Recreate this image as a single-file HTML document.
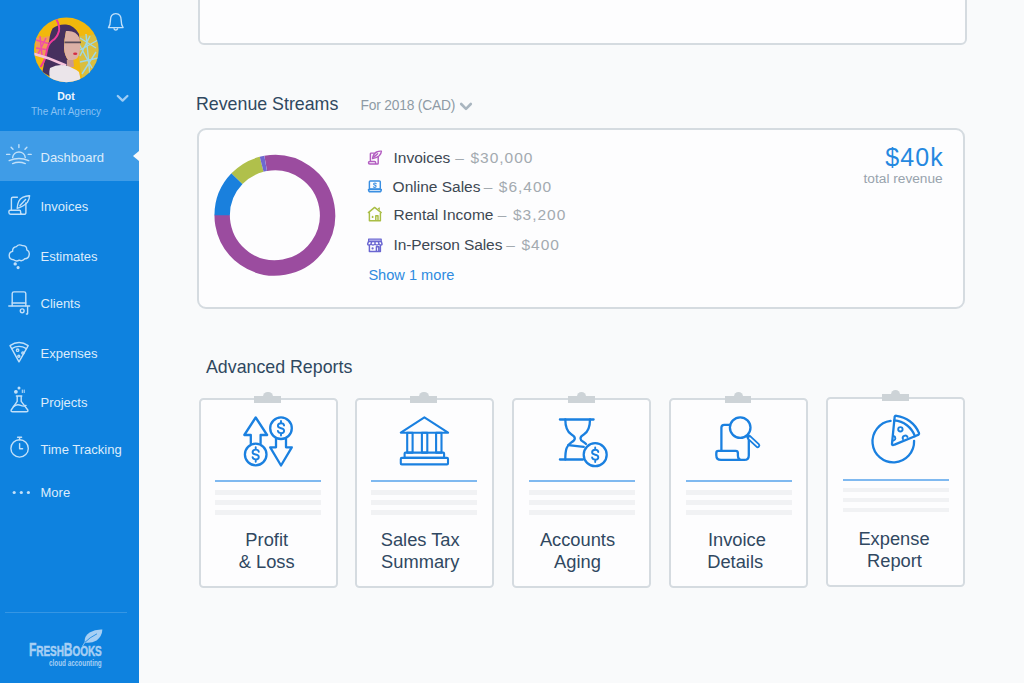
<!DOCTYPE html>
<html><head><meta charset="utf-8">
<style>
*{margin:0;padding:0;box-sizing:border-box}
html,body{width:1024px;height:683px;overflow:hidden}
body{font-family:"Liberation Sans",sans-serif;background:#f9fafb;position:relative}
.abs{position:absolute;white-space:nowrap}
#side{position:absolute;left:0;top:0;width:139px;height:683px;background:#0e82df}
#active{position:absolute;left:0;top:131px;width:139px;height:50px;background:#3f9ce7}
.notch{position:absolute;left:133px;top:150.6px;width:0;height:0;border-top:5.4px solid transparent;border-bottom:5.4px solid transparent;border-right:6.2px solid #f9fafb}
.nav{position:absolute;left:40.5px;color:#dcecfb;font-size:13px;line-height:13px;white-space:nowrap}
.card{position:absolute;background:#fdfdfe;border:2px solid #d5dbe0}
.h2{position:absolute;color:#2f4860;font-size:17.8px;line-height:18px;white-space:nowrap}
.leg{position:absolute;left:393.5px;font-size:15.5px;line-height:16px;color:#3d4853;white-space:nowrap}
.amt{color:#a3aab0}
.rep{position:absolute;width:139px;background:#fdfdfe;border:2px solid #d5dbe0;border-radius:4.5px}
.rep .t{position:absolute;width:135px;text-align:center;font-size:18.3px;line-height:22px;color:#304861;white-space:nowrap}
.rep .l1{position:absolute;left:14.6px;width:106px;height:2px;background:#7fb9f0}
.rep .g{position:absolute;left:14.6px;width:106px;height:4.4px;background:#f1f2f4}
.clip{position:absolute;left:53.6px;top:-4.3px;width:26.8px;height:6.8px;background:#cdd3d7}
.clip:before{content:"";position:absolute;left:9px;top:-4.4px;width:9.3px;height:9px;border-radius:50%;background:#cdd3d7}
#ov{position:absolute;left:0;top:0;width:1024px;height:683px;overflow:visible}
</style></head>
<body>
<div id="side">
 <div id="active"></div>
 <div class="abs" style="left:26px;top:90.9px;width:80px;text-align:center;font-size:10.5px;line-height:11px;font-weight:bold;color:#eef6fd">Dot</div>
 <div class="abs" style="left:26px;top:107px;width:80px;text-align:center;font-size:10px;line-height:10px;color:#86c0f3">The Ant Agency</div>
 <div class="nav" style="top:150.5px">Dashboard</div>
 <div class="nav" style="top:200px">Invoices</div>
 <div class="nav" style="top:250.2px">Estimates</div>
 <div class="nav" style="top:297px">Clients</div>
 <div class="nav" style="top:346.8px">Expenses</div>
 <div class="nav" style="top:396.3px">Projects</div>
 <div class="nav" style="top:442.6px">Time Tracking</div>
 <div class="nav" style="top:486px">More</div>
 <div class="abs" style="left:5.4px;top:612px;width:121.6px;height:1px;background:#3596e4"></div>
 <div class="abs" style="left:28.9px;top:641px;font-size:18px;line-height:18px;font-weight:bold;color:#a6cff4;-webkit-text-stroke:0.5px #a6cff4;transform:scaleX(0.668);transform-origin:0 0;letter-spacing:-0.1px">F<span style="font-size:15px">RESH</span>B<span style="font-size:15px">OOKS</span></div>
 <div class="abs" style="left:48.7px;top:658.1px;font-size:9.5px;line-height:10px;font-weight:bold;color:#a6cff4;transform:scaleX(0.67);transform-origin:0 0">cloud accounting</div>
</div>
<div class="notch"></div>

<div class="card" style="left:197.5px;top:-10px;width:769px;height:55px;border-radius:6px"></div>

<div class="h2" style="left:196px;top:95.3px">Revenue Streams</div>
<div class="abs" style="left:360.5px;top:98.8px;font-size:13.8px;line-height:14px;letter-spacing:-0.2px;color:#8e9aa5">For 2018 (CAD)</div>

<div class="card" style="left:196.5px;top:127.5px;width:768.5px;height:181px;border-radius:9px"></div>
<div class="leg" style="top:150.2px;left:393.5px;letter-spacing:0px">Invoices</div><div class="leg amt" style="top:150.2px;left:455.3px">–</div><div class="leg amt" style="top:150.2px;left:470.4px;letter-spacing:1px">$30,000</div>
<div class="leg" style="top:178.8px;left:392.6px;letter-spacing:0px">Online Sales</div><div class="leg amt" style="top:178.8px;left:483.7px">–</div><div class="leg amt" style="top:178.8px;left:498.8px;letter-spacing:1px">$6,400</div>
<div class="leg" style="top:207.2px;left:393.5px;letter-spacing:0px">Rental Income</div><div class="leg amt" style="top:207.2px;left:497.7px">–</div><div class="leg amt" style="top:207.2px;left:512.9px;letter-spacing:1px">$3,200</div>
<div class="leg" style="top:237.2px;left:393.5px;letter-spacing:-0.1px">In-Person Sales</div><div class="leg amt" style="top:237.2px;left:506.3px">–</div><div class="leg amt" style="top:237.2px;left:521.5px;letter-spacing:1px">$400</div>
<div class="abs" style="left:368.4px;top:268.4px;font-size:14.6px;line-height:15px;color:#2e8be0">Show 1 more</div>
<div class="abs" style="right:80.2px;top:145px;font-size:25px;line-height:25px;color:#2488e0;letter-spacing:1.1px">$40k</div>
<div class="abs" style="right:81.3px;top:172.15px;font-size:13.7px;line-height:14px;color:#98a3ad">total revenue</div>

<div class="h2" style="left:206px;top:358.3px">Advanced Reports</div>

<div class="rep" style="left:198.8px;top:398.3px;height:189.7px">
 <div class="clip"></div>
 <div class="l1" style="top:80.0px"></div><div class="g" style="top:89.9px"></div><div class="g" style="top:99.9px"></div><div class="g" style="top:109.9px"></div>
 <div class="t" style="top:128.6px;left:-1.6px">Profit</div>
 <div class="t" style="top:150.6px;left:-1.6px">&amp; Loss</div>
</div>
<div class="rep" style="left:354.9px;top:398.3px;height:189.7px">
 <div class="clip"></div>
 <div class="l1" style="top:80.0px"></div><div class="g" style="top:89.9px"></div><div class="g" style="top:99.9px"></div><div class="g" style="top:109.9px"></div>
 <div class="t" style="top:128.6px;left:-4.2px">Sales Tax</div>
 <div class="t" style="top:150.6px;left:-4.2px">Summary</div>
</div>
<div class="rep" style="left:512.3px;top:398.3px;height:189.7px">
 <div class="clip"></div>
 <div class="l1" style="top:80.0px"></div><div class="g" style="top:89.9px"></div><div class="g" style="top:99.9px"></div><div class="g" style="top:109.9px"></div>
 <div class="t" style="top:128.6px;left:-4.3px">Accounts</div>
 <div class="t" style="top:150.6px;left:-4.3px">Aging</div>
</div>
<div class="rep" style="left:669.0px;top:398.3px;height:189.7px">
 <div class="clip"></div>
 <div class="l1" style="top:80.0px"></div><div class="g" style="top:89.9px"></div><div class="g" style="top:99.9px"></div><div class="g" style="top:109.9px"></div>
 <div class="t" style="top:128.6px;left:-1.6px">Invoice</div>
 <div class="t" style="top:150.6px;left:-3.3px">Details</div>
</div>
<div class="rep" style="left:826.2px;top:396.5px;height:190.4px">
 <div class="clip"></div>
 <div class="l1" style="top:80.3px"></div><div class="g" style="top:89.6px"></div><div class="g" style="top:99.6px"></div><div class="g" style="top:109.6px"></div>
 <div class="t" style="top:129.5px;left:-1.7px">Expense</div>
 <div class="t" style="top:151.5px;left:-1.2px">Report</div>
</div>

<svg id="ov" width="1024" height="683" viewBox="0 0 1024 683">
<polyline points="461.2,104 466,108.8 470.8,104" fill="none" stroke="#a9b5bf" stroke-width="2.6" stroke-linecap="round" stroke-linejoin="round"/>
<defs><clipPath id="av"><circle cx="66.35" cy="49.9" r="32.3"/></clipPath></defs>
<g clip-path="url(#av)">
 <rect x="30" y="15" width="72" height="72" fill="#f2b80c"/>
 <path d="M36,38 L50,36 L49,56 L36,56 Z" fill="#f27ab0" opacity="0.45"/>
 <path d="M36,40 L50,44 M36,48 L49,50 M40,36 L42,56 M46,38 L38,54" stroke="#f04fa6" stroke-width="1.5" fill="none"/>
 <path d="M79,36 L98,34 L99,60 L94,74 L82,78 L79,60 Z" fill="#8fd0dc" opacity="0.25"/>
 <path d="M80,38 L96,48 M80,50 L98,40 M86,34 L90,76 M80,62 L98,58 M82,74 L96,52 M79,44 L92,68 M90,36 L80,56" stroke="#9fd8e6" stroke-width="1.4" fill="none"/>
 <path d="M52.7,28.3 Q58,24 66,24.5 Q74,25 79,34 L79.5,40 Q74,32 66,31 Q64,40 64,48 Q64.5,56 68.7,61 L70,66 L60,72 L52.7,78 L42.4,72 Q44,64 45.2,58 Q47,48 49,41.4 Q50,33 52.7,28.3 Z" fill="#46305e"/>
 <path d="M66,31 Q76,30 79.5,38 Q81,48 79,55 Q77,60 73.4,59.6 L72,62 L68.7,61 Q64.5,56 64,48 Q64,40 66,31 Z" fill="#dcb0a6"/>
 <path d="M64.5,42.4 H81" stroke="#5b4d5a" stroke-width="1.7"/>
 <ellipse cx="75.2" cy="53.8" rx="2.1" ry="1.3" fill="#d42d44"/>
 <path d="M66.8,60 L73.4,60 L74,67 L67,67 Z" fill="#c99a90"/>
 <path d="M56.5,19.5 Q60,26 59,31 Q57,38 52.5,40.5 Q48,44 47,50 Q45.5,58 44,61 Q42,65 40.5,67" stroke="#f03c9c" stroke-width="2" fill="none"/>
 <path d="M30,53 Q48,57 66,65.5" stroke="#f6c3dc" stroke-width="2.6" fill="none"/>
 <path d="M50,68 Q58,63.5 66,65.5 Q74,68 79,72 L82,86 L52,86 Q48,76 50,68 Z" fill="#ebe5ea"/>
</g>
<!-- logo -->
<g fill="#a6cff4">
 <path d="M84.6,642.4 Q84,636 89.6,632.4 Q95.4,629.2 102.4,629.6 Q102,636.6 96.6,640.4 Q91,643.6 84.6,642.4 Z"/>
</g>
<path d="M84.4,642.8 Q89.6,637.4 97,633.8" stroke="#0e82df" stroke-width="0.8" fill="none"/><path d="M85,642.2 Q83.4,644.6 82.6,646" stroke="#a6cff4" stroke-width="0.9" fill="none"/>

<g fill="none" stroke="#c2e0f9" stroke-width="1.4" stroke-linecap="round" stroke-linejoin="round">
 <!-- bell -->
 <path d="M115.8,13.6 C111.6,13.6 110.4,17 110.4,20.5 C110.4,24.2 109.6,26.3 108.5,27.6 H123.1 C122,26.3 121.2,24.2 121.2,20.5 C121.2,17 120,13.6 115.8,13.6 Z"/>
 <path d="M114,28.8 A1.9,1.9 0 0 0 117.6,28.8"/>
 <!-- dashboard sun -->
 <path d="M18.9,144.6 V147.6 M11.1,147.2 L13,149.2 M26.9,147.2 L25,149.2 M6.6,154.4 H9.8 M28.2,154.4 H31.2"/>
 <path d="M12.6,157.6 A6.4,6.4 0 0 1 25.3,157.6"/>
 <path d="M9.2,160.6 Q18.9,156.4 28.7,160.6 M12.6,163.6 Q18.9,161 25.3,163.6"/>
 <!-- invoices scroll -->
 <path d="M11.4,209.6 V198.8 Q11.4,197.3 12.9,197.3 H17.4"/>
 <path d="M25.9,203 V212.4 Q25.9,214.3 23.8,214.3 H10.6 Q8.9,214.3 8.9,212.6 V211.4 Q8.9,210.2 10.2,210.2 H19.5 Q20.6,210.2 20.6,211.4 V212.3 Q20.6,214.3 22.6,214.3"/>
 <path d="M17.2,208.4 Q17.6,200 22.6,197.4 Q26.4,195.6 29.6,195.8 Q29.4,199.6 27.4,202.4 Q24.2,206.2 17.2,208.4 Z M20,205.4 L25.6,199.6"/>
 <!-- estimates cloud -->
 <path d="M13.6,259.8 Q9.2,259.6 9.2,255.6 Q9.2,252 12.6,251.4 Q12.2,247.4 16.4,246.6 Q18.6,243.8 22.4,245.6 Q26.8,245.4 26.8,249.8 Q29.8,251.2 29.2,254.6 Q28.8,258.6 24.8,258.8 Q22.4,261.6 19.2,260.2 Q16.4,262 13.6,259.8 Z"/>
 <circle cx="15.2" cy="263.9" r="1" fill="#c2e0f9"/>
 <circle cx="18.1" cy="267.6" r="0.9" fill="#c2e0f9"/>
 <!-- clients hat -->
 <path d="M12.2,305.8 V293.6 Q12.2,291.9 14,291.9 H24 Q25.8,291.9 25.8,293.6 V305.8"/>
 <path d="M12.2,303 H25.8 M8.8,306 H29.6"/>
 <circle cx="22.2" cy="310.8" r="1.9"/>
 <path d="M27.6,306.4 V313.6 Q27.6,314.4 26.4,314"/>
 <!-- expenses pizza -->
 <path d="M10,345.6 Q19,339.4 28.2,345.6 L19,361.8 Z"/>
 <path d="M11.8,348.6 Q19,344.2 26.4,348.6"/>
 <circle cx="17.6" cy="350.2" r="1.2"/>
 <circle cx="22.9" cy="353" r="1.1"/>
 <circle cx="18.8" cy="356.2" r="1"/>
 <!-- projects flask -->
 <path d="M16.4,396 H21.8 M17.2,396 V401.4 L11.2,410 Q10.6,411.8 12.6,411.8 H26.4 Q28.4,411.8 27.8,410 L21.2,401.4 V396"/>
 <path d="M13.4,406.6 Q17,403.8 20.6,405.4 Q23.6,406.8 26,405.4"/>
 <circle cx="15.9" cy="391.8" r="1.2" fill="#c2e0f9"/>
 <circle cx="19" cy="387.9" r="0.8" fill="#c2e0f9"/>
 <path d="M22.3,390 V392.6 M24.2,390 V392.6" stroke-width="1"/>
 <!-- time tracking -->
 <circle cx="19.6" cy="448.4" r="8.7"/>
 <path d="M19.6,437.2 V439.7 M17.6,437.2 H21.6 M19.6,443.6 V448.8 H22.6"/>
</g>
<g fill="#c2e0f9">
 <circle cx="14.2" cy="492.5" r="1.6"/><circle cx="21.3" cy="492.5" r="1.6"/><circle cx="28.4" cy="492.5" r="1.6"/>
</g>
<polyline points="117.8,96 122.6,100.6 127.4,96" fill="none" stroke="#9dccf5" stroke-width="2.3" stroke-linecap="round" stroke-linejoin="round"/>
<!-- legend icons -->
<g fill="none" stroke-width="1.45" stroke-linecap="round" stroke-linejoin="round">
 <path stroke="#b35dc1" d="M370.4,160.9 V153.8 Q370.4,153.1 371.1,153.1 H373.8 M378.2,156.6 V163.2 Q378.2,164 377.4,164 H369.8 Q368.5,164 368.5,162.8 Q368.5,161.5 369.8,161.5 H374.6 Q375.6,161.5 375.6,162.6 V164"/>
 <path stroke="#b35dc1" d="M372.6,158.6 Q373.2,153.6 376.6,152 Q379.4,150.9 381.4,151.2 Q381.2,153.8 379.2,155.8 Q376.6,158.2 372.6,158.6 Z M374.4,156.6 L377.6,153.8"/>
 <rect stroke="#3a8fe2" x="369.4" y="180.9" width="10.9" height="8.2" rx="0.9"/>
 <path stroke="#3a8fe2" d="M368.5,189.4 H381.3 Q381.3,191.8 379.6,191.8 H370.2 Q368.5,191.8 368.5,189.4 Z"/>
 <path stroke="#3a8fe2" stroke-width="1.1" d="M376.2,183.6 Q375.6,183 374.8,183 Q373.6,183 373.6,184 Q373.6,184.9 374.8,185.1 Q376.1,185.3 376.1,186.3 Q376.1,187.4 374.8,187.4 Q373.9,187.4 373.4,186.8"/>
 <path stroke="#a9bd45" d="M368.4,212.6 L374.6,207.4 L381.2,212.6 M369.4,213 V220.8 H380.4 V213 M375.8,220.8 V215.8 H378 V220.8"/>
 <path fill="#a9bd45" stroke="none" d="M377.6,208.2 L379.8,207.2 L379.8,210.6 Z"/>
 <ellipse cx="372.6" cy="216.9" rx="0.9" ry="1.2" fill="#a9bd45" stroke="none"/>
 <rect x="368.6" y="239" width="12.6" height="2.6" fill="#a9a6e6" stroke="#6a66d1" stroke-width="1.2"/>
 <path stroke="#6a66d1" d="M368.4,241.8 L367.6,244 Q367.6,245 368.8,245 Q370.6,245 371,244 Q371.6,245 373,245 Q374.4,245 375,244 Q375.6,245 377,245 Q378.4,245 379,244 Q379.4,245 381,245 Q382.2,245 382,244 L381.4,241.8 M371.6,241.8 L371,244 M378.4,241.8 L379,244 M375,241.8 V244"/>
 <path stroke="#6a66d1" d="M369.4,245.4 V251.4 H380.4 V245.4 M376.4,251.4 V246.8 H378.8 V251.4"/>
 <circle cx="372.6" cy="248.4" r="1.1" fill="#6a66d1" stroke="none"/>
</g>

<circle cx="274.85" cy="215.3" r="52.7" fill="none" stroke="#9b4c9f" stroke-width="15.4" stroke-dasharray="257.54 331.12" transform="rotate(260 274.85 215.3)"/>
<circle cx="274.85" cy="215.3" r="52.7" fill="none" stroke="#1a80dd" stroke-width="15.4" stroke-dasharray="40.47 331.12" transform="rotate(180 274.85 215.3)"/>
<circle cx="274.85" cy="215.3" r="52.7" fill="none" stroke="#b0c04b" stroke-width="15.4" stroke-dasharray="28.97 331.12" transform="rotate(224 274.85 215.3)"/>
<circle cx="274.85" cy="215.3" r="52.7" fill="none" stroke="#6d68d0" stroke-width="15.4" stroke-dasharray="4.14 331.12" transform="rotate(255.5 274.85 215.3)"/>

<g fill="none" stroke="#1a80e0" stroke-width="2.3" stroke-linecap="round" stroke-linejoin="round">
 <!-- P&L -->
 <path d="M250.8,443.5 V435 H244.3 L255.7,417.5 L267.1,435 H260.6 V443.5"/>
 <circle cx="255.7" cy="454.5" r="10.8"/>
 <circle cx="281" cy="428.2" r="10.8"/>
 <path d="M276,439 V447.3 H270.2 L281,465.5 L291.8,447.3 H286 V439"/>
 <path stroke-width="1.9" d="M258.80,451.81 C258.49,449.60 256.94,449.60 255.70,449.60 C253.84,449.60 252.60,450.82 252.60,452.15 C252.60,454.01 254.15,454.25 255.70,454.50 C257.25,454.75 258.80,455.24 258.80,456.95 C258.80,458.42 257.56,459.40 255.70,459.40 C254.46,459.40 252.91,459.40 252.60,457.19 M255.70,447.20 V449.60 M255.70,459.40 V461.80"/>
 <path stroke-width="1.9" d="M284.10,425.50 C283.79,423.30 282.24,423.30 281.00,423.30 C279.14,423.30 277.90,424.52 277.90,425.85 C277.90,427.71 279.45,427.95 281.00,428.20 C282.55,428.44 284.10,428.94 284.10,430.65 C284.10,432.12 282.86,433.10 281.00,433.10 C279.76,433.10 278.21,433.10 277.90,430.89 M281.00,420.90 V423.30 M281.00,433.10 V435.50"/>
</g>
<g fill="none" stroke="#1a80e0" stroke-width="2.1" stroke-linecap="round" stroke-linejoin="round">
 <!-- bank -->
 <path d="M424.4,417.4 L400.8,432.7 H448.1 Z"/>
 <rect x="407.2" y="432.7" width="5.4" height="19.9"/>
 <rect x="421.9" y="432.7" width="5.4" height="19.9"/>
 <rect x="436.1" y="432.7" width="5.4" height="19.9"/>
 <rect x="404.6" y="452.6" width="39.5" height="5.3" rx="0.8"/>
 <rect x="400.8" y="457.9" width="47.2" height="6.5" rx="1"/>
</g>
<g fill="none" stroke="#1a80e0" stroke-width="2.3" stroke-linecap="round" stroke-linejoin="round">
 <!-- hourglass -->
 <path d="M559.9,419.5 H593.6 M559.9,459.5 H583"/>
 <path d="M565.3,419.5 C565.3,427 566.5,431.5 571.5,434.6 C574.2,436.2 574.8,437 574.8,438.4 C574.8,439.8 574.2,440.6 571.5,442.2 C566.5,445.3 565.3,450 565.3,459.5"/>
 <path d="M590,419.5 C590,427 588.8,431.5 583.8,434.6 C581.1,436.2 580.5,437 580.5,438.4 C580.5,439.8 581.1,440.6 583.2,441.8 C584.6,442.6 585.4,443.3 586,444"/>
 <path d="M568.3,445.2 L583.8,446.9"/>
 <circle cx="595.2" cy="454.7" r="11.5"/>
 <path stroke-width="1.9" d="M598.30,452.00 C597.99,449.80 596.44,449.80 595.20,449.80 C593.34,449.80 592.10,451.02 592.10,452.35 C592.10,454.21 593.65,454.45 595.20,454.70 C596.75,454.94 598.30,455.44 598.30,457.15 C598.30,458.62 597.06,459.60 595.20,459.60 C593.96,459.60 592.41,459.60 592.10,457.39 M595.20,447.40 V449.80 M595.20,459.60 V462.00"/>
</g>
<g fill="none" stroke="#1a80e0" stroke-width="2.3" stroke-linecap="round" stroke-linejoin="round">
 <!-- invoice details -->
 <circle cx="740.2" cy="427.6" r="10.3"/>
 <path d="M729.8,424.8 H724.2 Q721.4,424.8 721.4,427.6 V450.8"/>
 <path d="M748.8,437.6 V455.4 Q748.8,459.9 744.3,459.9 H721 Q716.3,459.9 716.3,455.2 V453 Q716.3,450.9 718.4,450.9 H735.6 Q737.9,450.9 737.9,453.1 V455.4 Q737.9,459.9 742.4,459.9"/>
 <path stroke-width="5.2" d="M749,437.3 L757.6,445.4"/>
 <path stroke="#fdfdfe" stroke-width="1.5" d="M749.8,438.1 L757.6,445.4"/>
</g>
<g fill="none" stroke="#1a80e0" stroke-width="2.3" stroke-linecap="round" stroke-linejoin="round">
 <!-- pizza pie -->
 <path d="M890.6,420.9 A20.8,20.8 0 1 0 914.1,440.8"/>
 <path d="M893.2,445 Q891.8,445.2 892,443.6 L894.3,420.4 A24,24 0 0 1 914.9,436.2 L894.6,444.6 Z"/>
 <path d="M894.3,420.4 L894.7,416.6 Q895,415.6 896.5,415.8 A28.5,28.5 0 0 1 918.8,432.6 Q919.5,434 918.6,434.6 L914.9,436.2"/>
 <circle cx="900.4" cy="429.3" r="2.2" stroke-width="1.9"/>
 <path stroke-width="1.9" d="M893.5,436 A2.3,2.3 0 0 1 893.6,440.5"/>
 <path stroke-width="1.9" d="M903,439.2 A2.3,2.3 0 0 1 907.5,437"/>
</g>

</svg>
</body></html>
